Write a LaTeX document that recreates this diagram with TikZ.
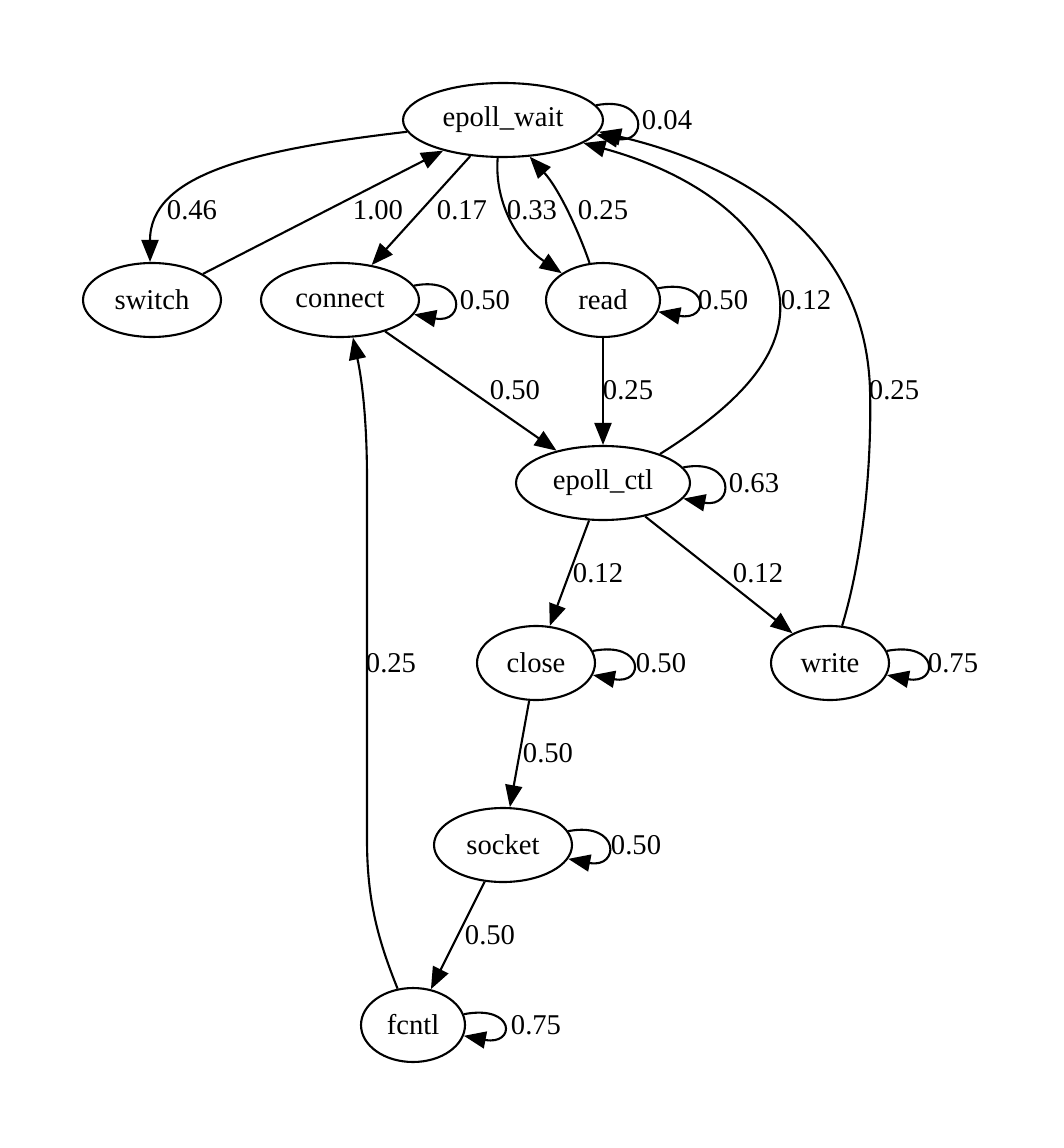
\documentclass[tikz,border=0pt]{standalone}
\usepackage{fontspec}
\setmainfont{Liberation Serif}
\usetikzlibrary{arrows.meta,shapes.geometric}
\begin{document}
\begin{tikzpicture}[x=0.02cm,y=-0.02cm,
  state/.style={draw, ellipse, line width=1.2pt, inner sep=0pt, minimum height=1.48cm, font=\fontsize{16.3}{19}\selectfont},
  edge/.style={line width=1.2pt, -{Triangle[length=0.44cm,width=0.34cm]}},
  lbl/.style={font=\fontsize{16.3}{19}\selectfont, inner sep=0pt}]
\useasboundingbox (0,0) rectangle (1063,1148);
% nodes
\node[state, minimum width=4cm]    (ew) at (503,120) {epoll\_wait};
\node[state, minimum width=2.76cm] (sw) at (152,300) {switch};
\node[state, minimum width=3.16cm] (cn) at (340,300) {connect};
\node[state, minimum width=2.28cm] (rd) at (603,300) {read};
\node[state, minimum width=3.48cm] (ec) at (603,483) {epoll\_ctl};
\node[state, minimum width=2.36cm] (cl) at (536,663) {close};
\node[state, minimum width=2.36cm] (wr) at (830,663) {write};
\node[state, minimum width=2.76cm] (sk) at (503,845) {socket};
\node[state, minimum width=2.08cm] (fc) at (413,1025) {fcntl};
% edges
\draw[edge] (ew.187) .. controls (250,150) and (150,175) .. (sw.93);
\draw[edge] (sw) -- (ew);
\draw[edge] (ew) -- (cn);
\draw[edge] (ew.262) .. controls (494,205) and (520,245) .. (rd.147);
\draw[edge] (rd.110) .. controls (580,235) and (560,190) .. (ew.306);
\draw[edge] (cn) -- (ec);
\draw[edge] (rd) -- (ec);
\draw[edge] (ec.27) .. controls (730,410) and (785,360) .. (780,300)
            .. controls (772,225) and (690,172) .. (ew.-16);
\draw[edge] (wr.72) .. controls (862,560) and (872,470) .. (870,390)
            .. controls (866,250) and (760,170) .. (ew.-7);
\draw[edge] (ec) -- (cl);
\draw[edge] (ec) -- (wr);
\draw[edge] (cl) -- (sk);
\draw[edge] (sk) -- (fc);
\draw[edge] (fc.113) .. controls (378,940) and (367,900) .. (367,840)
            -- (367,480) .. controls (367,420) and (362,380) .. (cn.-71);
% self loops
\draw[edge] (ew.9)  .. controls +(52,-10) and +(52,10) .. (ew.-9);
\draw[edge] (cn.11) .. controls +(52,-10) and +(52,10) .. (cn.-11);
\draw[edge] (rd.12) .. controls +(52,-10) and +(52,10) .. (rd.-12);
\draw[edge] (ec.11) .. controls +(52,-10) and +(52,10) .. (ec.-11);
\draw[edge] (cl.12) .. controls +(52,-10) and +(52,10) .. (cl.-12);
\draw[edge] (wr.12) .. controls +(52,-10) and +(52,10) .. (wr.-12);
\draw[edge] (sk.12) .. controls +(52,-10) and +(52,10) .. (sk.-12);
\draw[edge] (fc.12) .. controls +(52,-10) and +(52,10) .. (fc.-12);
% labels
\node[lbl] (l1)  at (667,120) {0.04};
\node[lbl] (l2)  at (192,210) {0.46};
\node[lbl] (l3)  at (378,210) {1.00};
\node[lbl] (l4)  at (462,210) {0.17};
\node[lbl] (l5)  at (532,210) {0.33};
\node[lbl] (l6)  at (603,210) {0.25};
\node[lbl] (l7)  at (485,300) {0.50};
\node[lbl] (l8)  at (723,300) {0.50};
\node[lbl] (l9)  at (806,300) {0.12};
\node[lbl] (l10) at (515,390) {0.50};
\node[lbl] (l11) at (628,390) {0.25};
\node[lbl] (l12) at (894,390) {0.25};
\node[lbl] (l13) at (754,483) {0.63};
\node[lbl] (l14) at (598,573) {0.12};
\node[lbl] (l15) at (758,573) {0.12};
\node[lbl] (l16) at (391,663) {0.25};
\node[lbl] (l17) at (661,663) {0.50};
\node[lbl] (l18) at (953,663) {0.75};
\node[lbl] (l19) at (548,753) {0.50};
\node[lbl] (l20) at (636,845) {0.50};
\node[lbl] (l21) at (490,935) {0.50};
\node[lbl] (l22) at (536,1025) {0.75};
\end{tikzpicture}
\end{document}
